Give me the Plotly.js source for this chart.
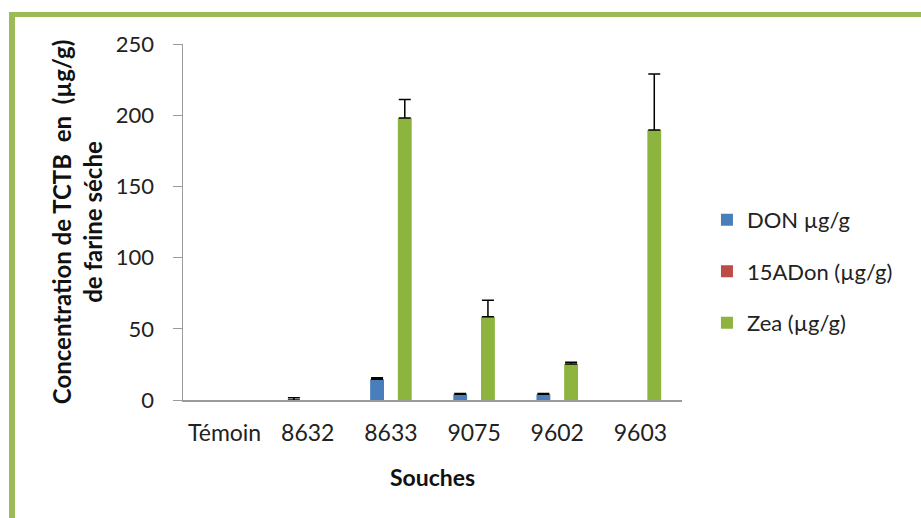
<!DOCTYPE html>
<html>
<head>
<meta charset="utf-8">
<script src="https://cdn.plot.ly/plotly-3.0.1.min.js"></script>
<style>
html,body{margin:0;padding:0;background:#fff;}
#frame{position:absolute;left:9px;top:12px;width:930px;height:520px;border-top:5px solid #9BBB59;border-left:6px solid #9BBB59;box-sizing:border-box;}
#chart{position:absolute;left:0;top:0;width:921px;height:518px;}
</style>
</head>
<body>
<div id="frame"></div>
<div id="chart"></div>
<script>
const categories = ['Témoin', '8632', '8633', '9075', '9602', '9603'];
const seriesNames = ['DON µg/g', '15ADon (µg/g)', 'Zea (µg/g)'];
const donValues = [0, 0, 14.5, 4, 4, 0];
const donErrors = [null, 1.5, 1.2, 0.5, 0.5, null];
const adonValues = [0, 0, 0, 0, 0, 0];
const adonErrors = [null, null, null, null, null, null];
const zeaValues = [0, 0, 198, 58.5, 25.3, 189.6];
const zeaErrors = [null, null, 13, 11.5, 1.2, 39.3];
const yTickValues = [0, 50, 100, 150, 200, 250];

const FONT = 'Lato, "Open Sans", sans-serif';
const fills = ['#4A7EBB', '#BE4B48', '#8DB43F'];

function errArr(a){ return a.map(v => (v === null ? NaN : v)); }

const values = [donValues, adonValues, zeaValues];
const errors = [donErrors, adonErrors, zeaErrors];

const traces = values.map((vals, i) => ({
  type: 'bar',
  name: seriesNames[i],
  x: categories,
  y: vals,
  legendgroup: 'g' + i,
  marker: {color: fills[i], line: {width: 0}},
  error_y: {
    type: 'data',
    symmetric: false,
    array: errArr(errors[i]),
    arrayminus: errArr(errors[i]).map(v => isNaN(v) ? NaN : 0),
    color: '#000000',
    thickness: 1.5,
    width: 6
  },
  hoverinfo: 'x+y+name'
}));

const layout = {
  width: 921,
  height: 518,
  paper_bgcolor: 'rgba(0,0,0,0)',
  plot_bgcolor: 'rgba(0,0,0,0)',
  margin: {l: 183, r: 239, t: 44, b: 118},
  barmode: 'group',
  bargap: 0.5,
  bargroupgap: 0,
  font: {family: FONT, size: 22, color: '#222'},
  showlegend: true,
  legend: {
    x: 1.05, xanchor: 'left',
    y: 0.565, yanchor: 'top',
    font: {family: FONT, size: 22, color: '#222'},
    tracegroupgap: 20,
    bgcolor: 'rgba(0,0,0,0)'
  },
  xaxis: {
    type: 'category',
    showline: true,
    linecolor: '#9a9a9a',
    linewidth: 1.5,
    ticks: '',
    showgrid: false,
    zeroline: false,
    tickfont: {family: FONT, size: 23, color: '#222'},
    ticklabelstandoff: 12,
    title: {text: '<b>Souches</b>', font: {family: FONT, size: 23, color: '#111'}, standoff: 25}
  },
  yaxis: {
    range: [0, 250],
    tickvals: yTickValues,
    ticktext: yTickValues.map(String),
    showline: true,
    linecolor: '#9a9a9a',
    linewidth: 1.5,
    ticks: 'outside',
    ticklen: 9,
    tickcolor: '#9a9a9a',
    showgrid: false,
    zeroline: false,
    tickfont: {family: FONT, size: 22, color: '#222'},
    ticklabelstandoff: 14,
    title: {text: '<b>Concentration de TCTB  en  (µg/g)<br>de farine séche</b>', font: {family: FONT, size: 24, color: '#111'}, standoff: 6}
  }
};

Plotly.newPlot('chart', traces, layout, {displayModeBar: false, staticPlot: true});
</script>
</body>
</html>
